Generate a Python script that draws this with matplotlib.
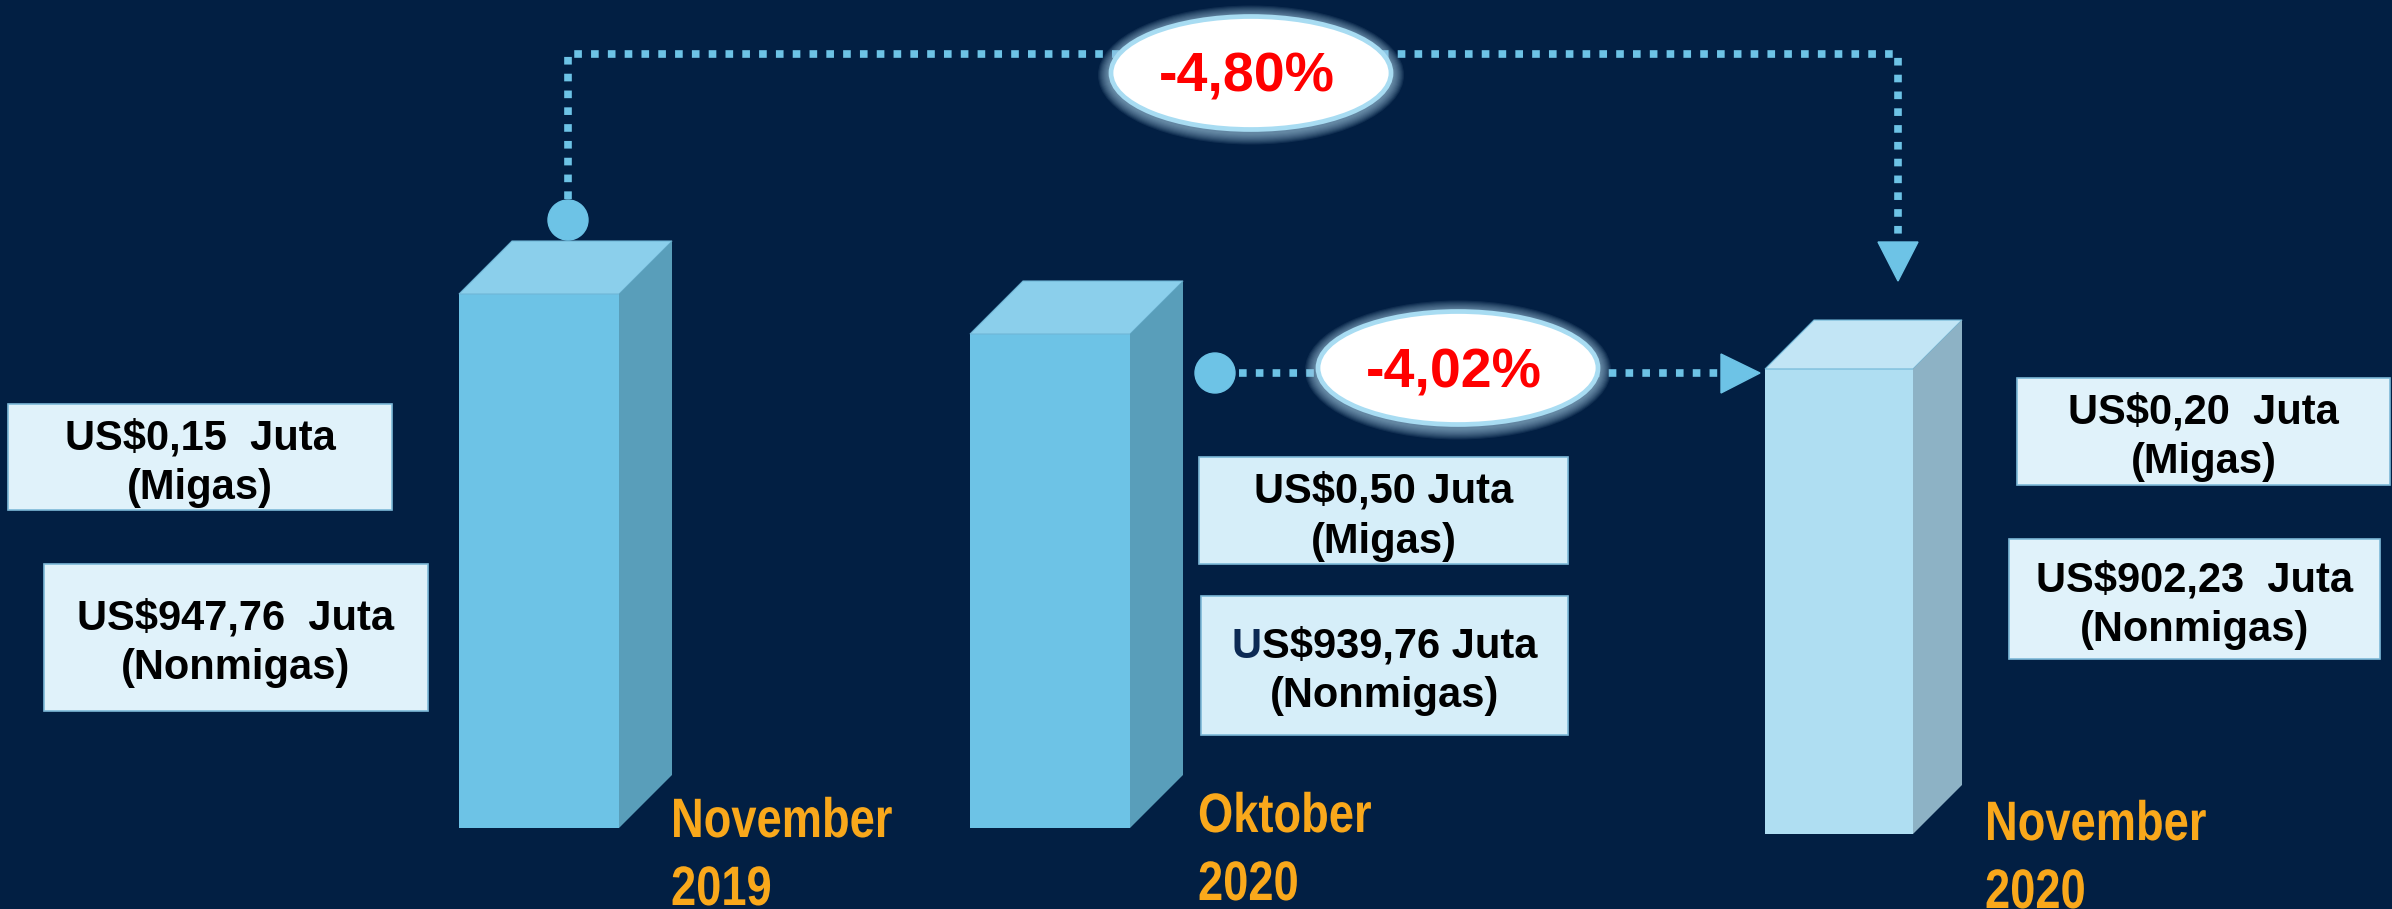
import matplotlib
matplotlib.use("Agg")
import matplotlib.pyplot as plt
from matplotlib.patches import Ellipse, Polygon, Rectangle, Circle
from matplotlib import font_manager
from matplotlib.font_manager import FontProperties
from matplotlib.transforms import IdentityTransform, Affine2D
from matplotlib.patheffects import AbstractPathEffect

# ---------------- data ----------------
categories = ["November\n2019", "Oktober\n2020", "November\n2020"]
migas = [0.15, 0.50, 0.20]            # US$ juta
nonmigas = [947.76, 939.76, 902.23]   # US$ juta
bar_heights = [534, 494, 465]         # visual bar heights (pixels in the infographic)
changes = [-4.80, -4.02]              # % change (Nov19->Nov20, Okt20->Nov20)

# ---------------- layout / style ----------------
W, H, DPI = 2392, 909, 100
BG = "#021f43"
bar_left = [459, 970, 1765]
bar_w = [160, 160, 148]
bar_depth = [53, 53, 49]
bar_base = [828, 828, 834]
front_col = ["#6dc3e6", "#6dc3e6", "#afdef2"]
top_col = ["#8bcfeb", "#8bcfeb", "#c2e5f5"]
side_col = ["#599eba", "#599eba", "#8db2c5"]
line_col = "#6dc3e6"

migas_box = [(8, 404, 392, 510), (1199, 457, 1568, 564), (2017, 378, 2390, 485)]
nonmigas_box = [(44, 564, 428, 711), (1201, 596, 1568, 735), (2009, 539, 2380, 659)]
box_fill = ["#e0f2fa", "#d6eef9", "#e0f2fa"]
juta_sep = ["  ", " ", "  "]

cat_x = [671, 1198, 1985]
cat_base = [837, 832, 840]
cat_gap = 68
orange = "#f9a81b"

ell_center = [(1251, 73), (1458, 368)]
ell_size = (284, 117)


def has_font(f):
    try:
        font_manager.findfont(FontProperties(family=f, weight="bold"), fallback_to_default=False)
        return True
    except Exception:
        return False


main_font = "Liberation Sans" if has_font("Liberation Sans") else "DejaVu Sans"
narrow_family = None
for f in ["Liberation Sans Narrow", "Arial Narrow"]:
    if has_font(f):
        narrow_family = f
        break
plt.rcParams["font.family"] = [main_font, "DejaVu Sans"]


class HSqueeze(AbstractPathEffect):
    """Draw the text narrower (condensed look) around its left anchor."""

    def __init__(self, sx, x0):
        super().__init__()
        self.sx, self.x0 = sx, x0

    def draw_path(self, renderer, gc, tpath, affine, rgbFace=None):
        aff = affine + Affine2D().translate(-self.x0, 0).scale(self.sx, 1).translate(self.x0, 0)
        renderer.draw_path(gc, tpath, aff, rgbFace)


fig = plt.figure(figsize=(W / DPI, H / DPI), dpi=DPI, facecolor=BG)
ax = fig.add_axes([0, 0, 1, 1])
ax.set_facecolor(BG)
ax.set_xlim(0, W)
ax.set_ylim(H, 0)
ax.axis("off")

# ---------------- 3D bars ----------------
ax.bar(bar_left, [-h for h in bar_heights], bottom=bar_base, width=bar_w,
       align="edge", color=front_col, edgecolor="none", zorder=2)
for xl, w, d, base, h, tc, sc in zip(bar_left, bar_w, bar_depth, bar_base, bar_heights, top_col, side_col):
    top = base - h
    ax.add_patch(Polygon([(xl, top), (xl + w, top), (xl + w + d, top - d), (xl + d, top - d)],
                         closed=True, facecolor=tc, edgecolor="#6fb6d6", lw=0.8, zorder=2))
    ax.add_patch(Polygon([(xl + w, top), (xl + w + d, top - d), (xl + w + d, base - d), (xl + w, base)],
                         closed=True, facecolor=sc, edgecolor="none", zorder=2))

# ---------------- connectors ----------------
dot_kw = dict(color=line_col, lw=5.5, linestyle=(0, (1, 1.2)), dash_capstyle="butt", zorder=3)
top1 = bar_base[0] - bar_heights[0] - bar_depth[0]
x1 = bar_left[0] + bar_w[0] / 2 + 29
x3 = bar_left[2] + bar_w[2] / 2 + 59
ytop = 54
ax.plot([x1, x1, x3, x3], [top1 - 42, ytop, ytop, 242], **dot_kw)
ax.add_patch(Circle((x1, top1 - 21), 20, color=line_col, zorder=3))
ax.add_patch(Polygon([(x3 - 20, 242), (x3 + 20, 242), (x3, 281)], closed=True, color=line_col, zorder=3))

y2 = 373
x2 = bar_left[1] + bar_w[1] + bar_depth[1] + 32
ax.add_patch(Circle((x2, y2), 20, color=line_col, zorder=3))
ax.plot([x2 + 24, bar_left[2] - 44], [y2, y2], **dot_kw)
tip = bar_left[2] - 5
ax.add_patch(Polygon([(tip - 39, y2 - 19), (tip - 39, y2 + 20), (tip, y2)], closed=True, color=line_col, zorder=3))

# ---------------- ellipses with % change ----------------
ew, eh = ell_size
for (cx, cy), v in zip(ell_center, changes):
    for k in range(10, 0, -1):
        ax.add_patch(Ellipse((cx, cy + 2), ew + 2.2 * k, eh + 2.2 * k, facecolor="#a6cde3",
                             edgecolor="none", alpha=0.09, zorder=5))
    ax.add_patch(Ellipse((cx, cy), ew - 4, eh - 4, facecolor="white", edgecolor="#a8dcf2", lw=3.4, zorder=6))
    lab = f"{v:.2f}%".replace(".", ",")
    ax.text(cx - 4, cy + 19, lab, color="#ff0000", fontsize=40, fontweight="bold",
            ha="center", va="baseline", zorder=7)

# ---------------- value boxes ----------------
txt_kw = dict(fontsize=30, fontweight="bold", color="black", va="baseline", zorder=5)
special_line = None   # the Oktober non-oil line has a navy first letter
for i in range(3):
    for kind, (x0, y0, x1b, y1b), l1, l2 in [
        ("m", migas_box[i], f"US${migas[i]:.2f}".replace(".", ",") + juta_sep[i] + "Juta", "(Migas)"),
        ("n", nonmigas_box[i], f"US${nonmigas[i]:.2f}".replace(".", ",") + juta_sep[i] + "Juta", "(Nonmigas)"),
    ]:
        ax.add_patch(Rectangle((x0, y0), x1b - x0, y1b - y0, facecolor=box_fill[i],
                               edgecolor="#7db9d8", lw=1.2, zorder=4))
        cx, cy = (x0 + x1b) / 2, (y0 + y1b) / 2
        if kind == "n" and i == 1:
            special_line = (cx, cy - 8, l1)
        else:
            ax.text(cx, cy - 8, l1, ha="center", **txt_kw)
        ax.text(cx, cy + 42, l2, ha="center", **txt_kw)

# ---------------- category labels ----------------
for x, yb, cat in zip(cat_x, cat_base, categories):
    x_disp = ax.transData.transform((x, 0))[0]
    for j, line in enumerate(cat.split("\n")):
        if narrow_family:
            ax.text(x, yb + j * cat_gap, line, fontsize=40, fontweight="bold", color=orange,
                    ha="left", va="baseline", zorder=5, family=narrow_family)
        else:
            ax.text(x, yb + j * cat_gap, line, fontsize=40, fontweight="bold", color=orange,
                    ha="left", va="baseline", zorder=5,
                    path_effects=[HSqueeze(0.815, x_disp)])

# navy "U" followed by the black rest of the line, centred like the other lines
cx, yb, l1 = special_line
r = fig.canvas.get_renderer()
tmp = ax.text(cx, yb, l1, ha="center", **txt_kw)
bb = tmp.get_window_extent(r)
tmp.remove()
px, py = ax.transData.transform((cx, yb))
u = fig.text(bb.x0, py, l1[0], transform=IdentityTransform(), ha="left",
             **{**txt_kw, "color": "#0c2a55"})
ub = u.get_window_extent(r)
fig.text(ub.x1, py, l1[1:], transform=IdentityTransform(), ha="left", **txt_kw)

fig.savefig("out.png", dpi=DPI, facecolor=BG)
